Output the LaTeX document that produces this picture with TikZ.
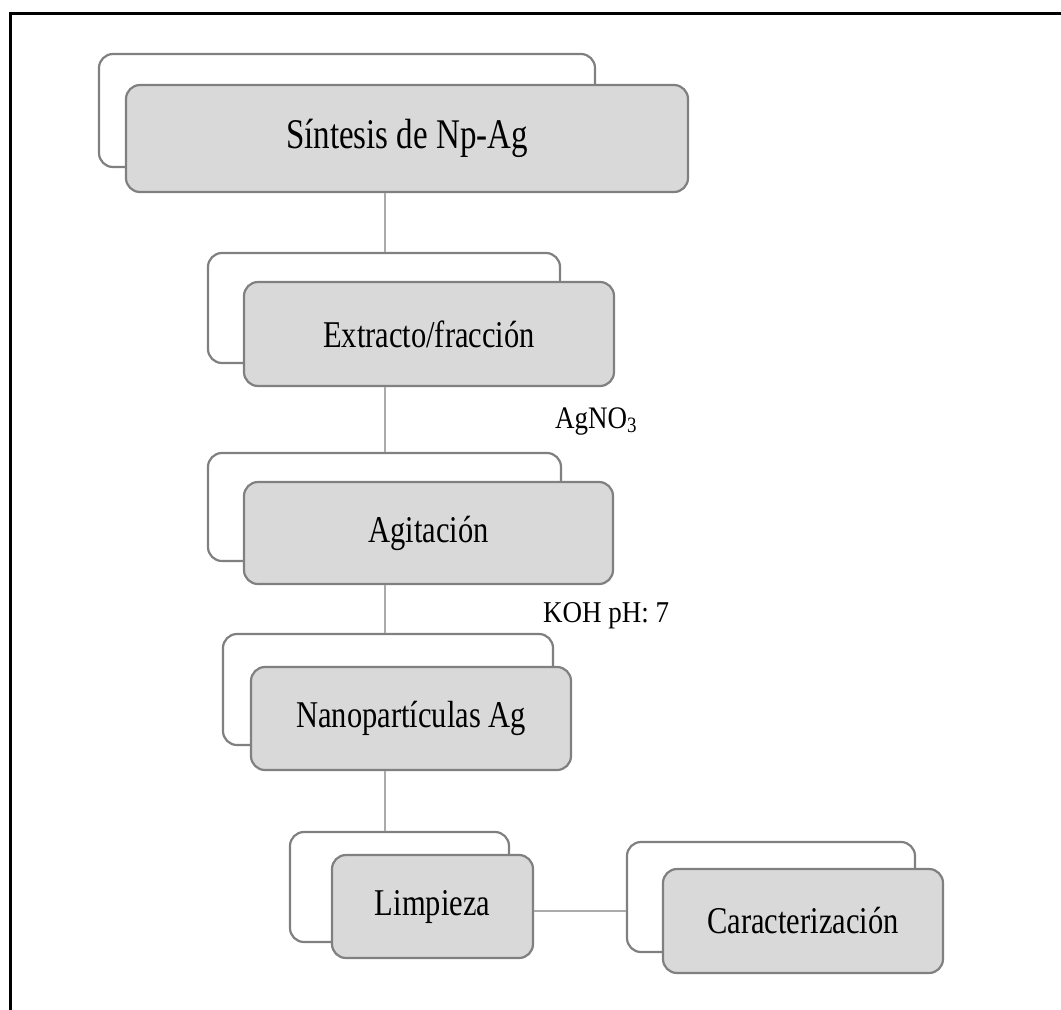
\documentclass[tikz,border=0pt]{standalone}
\usepackage{fontspec}
\usepackage{graphicx}
\setmainfont{Liberation Serif}
\definecolor{boxline}{RGB}{128,128,128}
\definecolor{boxfill}{RGB}{217,217,217}
\definecolor{connline}{RGB}{170,170,170}
\newcommand{\stxt}[3]{\scalebox{1}[#3]{\fontsize{#1}{#1}\selectfont #2}}
\tikzset{
  backbox/.style={draw=boxline, line width=2.2pt, fill=white, rounded corners=14pt, inner sep=0pt},
  frontbox/.style={draw=boxline, line width=2.2pt, fill=boxfill, rounded corners=14pt, inner sep=0pt, align=center},
  conn/.style={draw=connline, line width=2pt},
  lbl/.style={inner sep=0pt, anchor=base west}
}
\begin{document}
\begin{tikzpicture}[x=1pt,y=-1pt]
\useasboundingbox (0,0) rectangle (1061,1010);
\fill[white] (0,0) rectangle (1061,1010);
\draw[line width=3pt] (10,1010) -- (10,13.5) -- (1061,13.5);

% Box 1: back 99-595 x 54-167, front 126-688 x 85-192
\node[backbox, minimum width=496pt, minimum height=113pt] (b1) at (347,110.5) {};
\node[frontbox, minimum width=562pt, minimum height=107pt] (f1) at (407,138.5) {\stxt{33}{Síntesis de Np-Ag}{1.28}};
% Box 2: back 208-560 x 253-363, front 244-614 x 282-386
\node[backbox, minimum width=352pt, minimum height=110pt] (b2) at (384,308) {};
\node[frontbox, minimum width=370pt, minimum height=104pt] (f2) at (429,334) {\stxt{30.5}{Extracto/fracción}{1.24}};
% Box 3: back 208-561 x 453-561, front 244-613 x 482-584
\node[backbox, minimum width=353pt, minimum height=108pt] (b3) at (384.5,507) {};
\node[frontbox, minimum width=369pt, minimum height=102pt] (f3) at (428.5,533) {\stxt{30.5}{Agitación}{1.24}};
% Box 4: back 223-553 x 634-745, front 251-571 x 667-770
\node[backbox, minimum width=330pt, minimum height=111pt] (b4) at (388,689.5) {};
\node[frontbox, minimum width=320pt, minimum height=103pt] (f4) at (411,718.5) {\stxt{30.5}{Nanopartículas Ag}{1.24}};
% Box 5: back 290-509 x 832-942, front 332-533 x 855-958
\node[backbox, minimum width=219pt, minimum height=110pt] (b5) at (399.5,887) {};
\node[frontbox, minimum width=201pt, minimum height=103pt] (f5) at (432.5,906.5) {\stxt{30.5}{Limpieza}{1.24}};
% Box 6: back 627-915 x 842-952, front 663-943 x 869-973
\node[backbox, minimum width=288pt, minimum height=110pt] (b6) at (771,897) {};
\node[frontbox, minimum width=280pt, minimum height=104pt] (f6) at (803,921) {\stxt{30.5}{Caracterización}{1.24}};

% labels
\node[lbl] (l1) at (555,428) {\stxt{27}{AgNO\textsubscript{3}}{1.16}};
\node[lbl] (l2) at (543,622) {\stxt{27}{KOH pH: 7}{1.12}};

% connectors
\coordinate (sp) at (385,0);
\coordinate (hz) at (0,911);
\draw[conn] (f1.south -| sp) -- (b2.north -| sp);
\draw[conn] (f2.south -| sp) -- (b3.north -| sp);
\draw[conn] (f3.south -| sp) -- (b4.north -| sp);
\draw[conn] (f4.south -| sp) -- (b5.north -| sp);
\draw[conn] (f5.east |- hz) -- (b6.west |- hz);
\end{tikzpicture}
\end{document}
